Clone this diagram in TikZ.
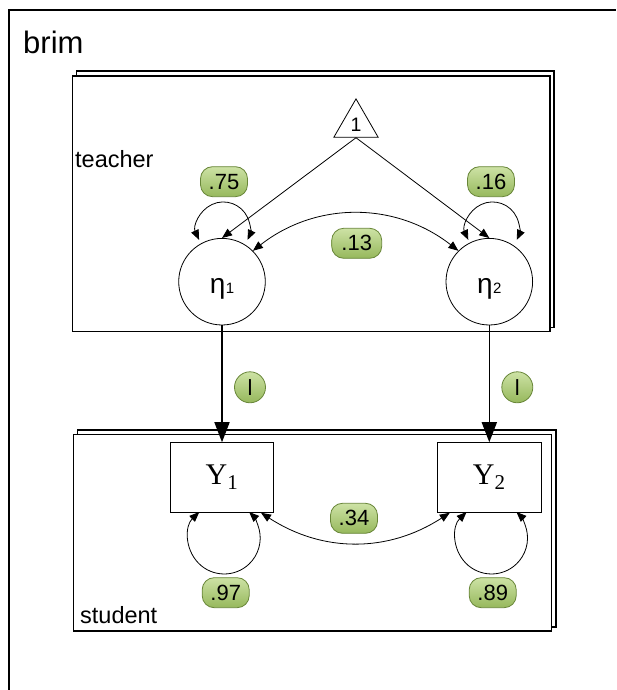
\documentclass[tikz,border=0pt]{standalone}
\usepackage{fontspec}
\setsansfont{Liberation Sans}
\newfontfamily\yfont{Liberation Serif}
\usetikzlibrary{shapes.geometric,arrows.meta,calc}
\definecolor{lblA}{RGB}{205,226,165}
\definecolor{lblB}{RGB}{150,184,92}
\definecolor{lblD}{RGB}{104,134,56}
\tikzset{
  every node/.style={font=\sffamily},
  outerframe/.style={draw=black, line width=1.3pt},
  plate/.style={draw=black, line width=1.2pt},
  latent/.style={circle, draw=black, line width=0.8pt, fill=white, minimum size=86.6pt, inner sep=0pt,
                 text height=23pt, text depth=0pt, font=\sffamily\fontsize{28}{30}\selectfont},
  obs/.style={rectangle, draw=black, line width=0.8pt, fill=white, minimum width=103.6pt, minimum height=69.7pt,
              inner sep=0pt, font=\yfont\fontsize{30}{34}\selectfont},
  tri/.style={regular polygon, regular polygon sides=3, draw=black, line width=0.8pt, fill=white,
              minimum size=51.2pt, inner sep=0pt, font=\sffamily\fontsize{19.5}{22}\selectfont},
  val/.style={rectangle, rounded corners=12pt, draw=lblD, line width=0.8pt, top color=lblA, bottom color=lblB,
              minimum width=47pt, minimum height=30pt, inner sep=2pt, font=\sffamily\fontsize{22}{24}\selectfont},
  lval/.style={circle, draw=lblD, line width=0.8pt, top color=lblA, bottom color=lblB,
               minimum size=31pt, inner sep=0pt, font=\sffamily\fontsize{22}{24}\selectfont},
  thinarr/.style={line width=0.8pt, -{Triangle[length=10pt,width=8pt]}},
  dblarr/.style={line width=0.8pt, {Triangle[length=10pt,width=8pt]}-{Triangle[length=10pt,width=8pt]}},
  thickarr/.style={line width=1.6pt, -{Triangle[length=20pt,width=15pt]}},
  platelabel/.style={anchor=base west, inner sep=0pt, font=\sffamily\fontsize{23.5}{26}\selectfont}
}
\begin{document}
\begin{tikzpicture}[x=1pt,y=1pt]
\useasboundingbox (0,0) rectangle (616,690);
\draw[outerframe] (9,0) -- (9,680) -- (616,680);
\node[anchor=base west, inner sep=0pt, font=\sffamily\fontsize{31}{36}\selectfont] (brim) at (23,636.7) {brim};

% teacher plate
\draw[plate, fill=white] (76.7,362.5) rectangle (554,619);
\draw[plate, fill=white] (72.7,358.3) rectangle (550,614);
\node[platelabel] (teacher) at (75,522.7) {teacher};

% student plate
\draw[plate, fill=white] (77.3,63) rectangle (556,260);
\draw[plate, fill=white] (73.3,59) rectangle (551.7,255.7);
\node[platelabel] (student) at (80,66.7) {student};

% nodes
\node[tri] (one) at (356,565.5) {1};
\node[latent] (eta1) at (222,408.3) {η\kern0.5pt{\fontsize{15}{15}\selectfont 1}};
\node[latent] (eta2) at (489.3,408.3) {η\kern0.5pt{\fontsize{15}{15}\selectfont 2}};
\node[obs] (Y1) at (222,212.5) {Y\textsubscript{1}};
\node[obs] (Y2) at (489.3,212.5) {Y\textsubscript{2}};

% connectors
\draw[thinarr] (one.south) -- (eta1.north);
\draw[thinarr] (one.south) -- (eta2.north);
\draw[dblarr] ($(eta1.center)+(-22.9,41.8)$) arc[start angle=204.9, end angle=-24.9, radius=26.7];
\draw[dblarr] ($(eta2.center)+(-21.0,41.8)$) arc[start angle=204.9, end angle=-24.9, radius=26.7];
\draw[dblarr] (eta1.45) to[bend left=38] (eta2.135);
\draw[thickarr] (eta1.south) -- (Y1.north);
\draw[thickarr] (eta2.south) -- (Y2.north);
\draw[dblarr] ($(Y1.center)+(-22.7,-34.5)$) arc[start angle=133.8, end angle=406.2, radius=36];
\draw[dblarr] ($(Y2.center)+(-22.7,-34.5)$) arc[start angle=133.8, end angle=406.2, radius=36];
\draw[dblarr] ([xshift=39pt]Y1.south) to[bend right=33] ([xshift=-39.5pt]Y2.south);

% labels
\node[val] (v75) at (224,508.3) {.75};
\node[val] (v16) at (491,508.3) {.16};
\node[val, minimum width=50pt] (v13) at (356.7,446.7) {.13};
\node[lval] (l1) at (250,302.7) {l};
\node[lval] (l2) at (517.3,302.7) {l};
\node[val] (v34) at (354,171.7) {.34};
\node[val] (v97) at (225.7,97.3) {.97};
\node[val] (v89) at (492.7,97.3) {.89};
\end{tikzpicture}
\end{document}
